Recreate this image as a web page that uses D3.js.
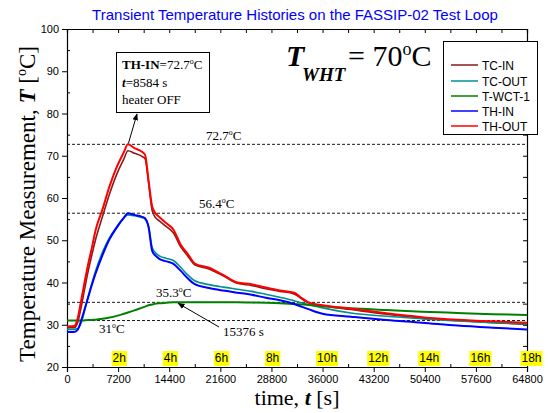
<!DOCTYPE html>
<html><head><meta charset="utf-8">
<script src="https://cdn.jsdelivr.net/npm/d3@7"></script>
<style>
html,body{margin:0;padding:0;background:#fff;}
svg{display:block;}
</style>
</head><body>
<svg id="chart" width="548" height="413"></svg>
<script>
// ---- data ----
const times = [0,1000,1500,2000,2500,3000,3500,4000,5000,6000,7000,8000,8584,9500,10500,11000,11500,12000,12500,13000,14000,15000,16000,17000,18000,20000,22000,24000,26000,28000,30000,32000,33000,34000,36000,40000,45000,50000,55000,60000,64800];
const tcIn  = [29.3,29.3,30.5,34.2,38.6,42.8,46.5,50.0,55.6,61.0,65.6,69.2,71.2,70.6,69.9,69.3,63.5,57.0,55.3,54.6,53.2,51.7,48.5,46.3,44.2,43.2,41.6,39.8,39.3,38.5,37.9,37.3,36.2,35.2,34.5,33.6,32.5,31.6,31.0,30.5,30.1];
const tcOut = [28.9,28.9,29.1,30.5,33.5,36.8,39.8,42.6,47.2,50.6,53.2,55.3,56.0,55.8,55.4,55.0,53.2,48.3,47.0,46.3,45.7,45.2,43.6,41.8,40.4,39.5,38.9,38.4,37.9,37.2,36.5,35.7,35.2,34.8,34.0,32.8,32.0,31.4,30.9,30.5,30.2];
const wct1  = [31.0,31.0,31.0,31.0,31.05,31.1,31.15,31.2,31.4,31.7,32.1,32.6,32.9,33.4,34.0,34.3,34.6,34.8,35.0,35.1,35.2,35.3,35.3,35.3,35.3,35.3,35.3,35.3,35.25,35.2,35.1,34.9,34.8,34.7,34.4,33.9,33.5,33.1,32.8,32.5,32.3];
const thIn  = [28.3,28.3,28.8,31.0,33.8,36.6,39.4,42.0,46.5,50.3,53.0,55.3,56.4,56.0,55.6,55.2,53.0,47.5,46.3,45.6,45.0,44.4,42.8,41.0,39.6,38.7,38.1,37.6,37.1,36.4,35.8,34.9,34.3,33.7,32.6,31.9,31.1,30.5,29.8,29.3,28.9];
const thOut = [29.6,29.7,31.5,35.8,40.3,44.5,48.2,52.2,57.3,62.8,67.3,70.8,72.7,71.8,71.0,70.2,64.0,58.0,56.3,55.5,54.0,52.5,49.0,46.8,44.5,43.5,41.8,40.0,39.6,38.8,38.1,37.6,36.4,35.3,34.6,33.8,32.7,31.8,31.2,30.8,30.5];

const seriesNames  = ["TC-IN","TC-OUT","T-WCT-1","TH-IN","TH-OUT"];
const seriesColors = ["#8B1A1A","#00908F","#008000","#0000FF","#FF0000"];
const seriesValues = [tcIn, tcOut, wct1, thIn, thOut];

const xTicks = [0,7200,14400,21600,28800,36000,43200,50400,57600,64800];
const xMinorTicks = [3600,10800,18000,25200,32400,39600,46800,54000,61200];
const yTicks = [20,30,40,50,60,70,80,90,100];
const yMinorTicks = [25,35,45,55,65,75,85,95];
const hourTicks = [7200,14400,21600,28800,36000,43200,50400,57600,64800];
const hourLabels = ["2h","4h","6h","8h","10h","12h","14h","16h","18h"];

const refLevels = [72.7, 56.4, 35.3, 31];
const peakTime = 8584, peakTemp = 72.7;
const wctTime = 15376, wctTemp = 35.3;

// ---- drawing ----
const SERIF = "'Liberation Serif','Times New Roman',serif";
const SANS = "'Liberation Sans',Arial,sans-serif";
const svg = d3.select("#chart");
const L = 67, R = 527, T = 29, B = 367;
const x = d3.scaleLinear().domain([0,64800]).range([L,R]);
const y = d3.scaleLinear().domain([20,100]).range([B,T]);

// axes
function styleAxis(g){
  g.select(".domain").attr("stroke","#000").attr("stroke-width",1.2);
  g.selectAll(".tick line").attr("stroke","#000").attr("stroke-width",1);
  g.selectAll(".tick text").attr("font-family",SANS).attr("font-size",11).attr("fill","#000");
}
const gxb = svg.append("g").attr("transform",`translate(0,${B})`)
  .call(d3.axisBottom(x).tickValues(xTicks).tickFormat(d3.format("d")).tickSizeOuter(0).tickSize(5).tickPadding(3));
styleAxis(gxb);
svg.append("g").attr("transform",`translate(0,${B})`)
  .call(d3.axisBottom(x).tickValues(xMinorTicks).tickFormat("").tickSizeOuter(0).tickSize(-3))
  .call(g=>{g.select(".domain").remove(); g.selectAll("line").attr("stroke","#000");});
const gyl = svg.append("g").attr("transform",`translate(${L},0)`)
  .call(d3.axisLeft(y).tickValues(yTicks).tickFormat(d3.format("d")).tickSizeOuter(0).tickSize(5).tickPadding(3));
styleAxis(gyl);
svg.append("g").attr("transform",`translate(${L},0)`)
  .call(d3.axisLeft(y).tickValues(yMinorTicks).tickFormat("").tickSizeOuter(0).tickSize(-3))
  .call(g=>{g.select(".domain").remove(); g.selectAll("line").attr("stroke","#000");});
// top & right
svg.append("g").attr("transform",`translate(0,${T})`)
  .call(d3.axisTop(x).tickValues(xTicks.concat(xMinorTicks)).tickFormat("").tickSizeOuter(0).tickSize(-4))
  .call(g=>{g.select(".domain").attr("stroke-width",1.2); g.selectAll("line").attr("stroke","#000");});
svg.append("g").attr("transform",`translate(${R},0)`)
  .call(d3.axisRight(y).tickValues(yTicks.concat(yMinorTicks)).tickFormat("").tickSizeOuter(0).tickSize(-4))
  .call(g=>{g.select(".domain").attr("stroke-width",1.2); g.selectAll("line").attr("stroke","#000");});

// hour labels
const hg = svg.append("g");
hourTicks.forEach((t,i)=>{
  const tx = hg.append("text").attr("x",x(t)-5.5).attr("y",B-5)
    .attr("font-family",SANS).attr("font-size",12).text(hourLabels[i]);
  const bb = tx.node().getBBox();
  hg.insert("rect","text").attr("x",bb.x-1).attr("y",B-16).attr("width",bb.width+2).attr("height",15).attr("fill","#FFFF00");
});

// reference dashed lines
svg.append("g").selectAll("line").data(refLevels).join("line")
  .attr("x1",L).attr("x2",R).attr("y1",d=>y(d)).attr("y2",d=>y(d))
  .attr("stroke","#000").attr("stroke-width",0.9).attr("stroke-dasharray","3,2");

// series lines
const line = d3.line().x((d,i)=>x(times[i])).y(d=>y(d)).curve(d3.curveMonotoneX);
seriesValues.forEach((vals,k)=>{
  svg.append("path").datum(vals).attr("d",line).attr("fill","none")
    .attr("stroke",seriesColors[k]).attr("stroke-width", k===0||k===1 ? 1.6 : 2)
    .attr("stroke-linejoin","round");
});

// degree label helper
function degLabel(g, xx, yy, value, size){
  const t = g.append("text").attr("x",xx).attr("y",yy).attr("font-family",SERIF).attr("font-size",size);
  t.append("tspan").text(value);
  t.append("tspan").attr("font-size",size*0.6).attr("dy",-size*0.4).text("o");
  t.append("tspan").attr("dy",size*0.4).text("C");
  return t;
}
const ann = svg.append("g");
degLabel(ann, 206, 140, "72.7", 13);
degLabel(ann, 199, 208, "56.4", 13);
degLabel(ann, 156, 297, "35.3", 13);
degLabel(ann, 99, 333, "31", 13);

// arrows
const defs = svg.append("defs");
defs.append("marker").attr("id","ah").attr("viewBox","0 0 10 10").attr("refX",9).attr("refY",5)
  .attr("markerWidth",7).attr("markerHeight",7).attr("orient","auto")
  .append("path").attr("d","M0,1 L10,5 L0,9 Z").attr("fill","#000");
svg.append("line").attr("x1",x(peakTime)+0.5).attr("y1",y(peakTemp)-1).attr("x2",137).attr("y2",114)
  .attr("stroke","#000").attr("stroke-width",1).attr("marker-end","url(#ah)");
svg.append("line").attr("x1",219).attr("y1",327).attr("x2",x(wctTime)+2).attr("y2",y(wctTemp)+1)
  .attr("stroke","#000").attr("stroke-width",1).attr("marker-end","url(#ah)");
svg.append("text").attr("x",223).attr("y",336).attr("font-family",SERIF).attr("font-size",13).text(`${wctTime} s`);

// annotation box
svg.append("rect").attr("x",116.5).attr("y",52.5).attr("width",93).attr("height",60)
  .attr("fill","#fff").attr("stroke","#000").attr("stroke-width",1);
const b1 = svg.append("text").attr("x",122).attr("y",69).attr("font-family",SERIF).attr("font-size",13);
b1.append("tspan").attr("font-weight","bold").text("TH-IN");
b1.append("tspan").text(`=${peakTemp}`);
b1.append("tspan").attr("font-size",8).attr("dy",-5).text("o");
b1.append("tspan").attr("dy",5).text("C");
const b2 = svg.append("text").attr("x",122).attr("y",86.5).attr("font-family",SERIF).attr("font-size",13);
b2.append("tspan").attr("font-weight","bold").attr("font-style","italic").text("t");
b2.append("tspan").text(`=${peakTime} s`);
svg.append("text").attr("x",122).attr("y",104).attr("font-family",SERIF).attr("font-size",13).text("heater OFF");

// T_WHT label
svg.append("text").attr("x",286).attr("y",66).attr("font-family",SERIF).attr("font-size",30)
  .attr("font-weight","bold").attr("font-style","italic").text("T");
svg.append("text").attr("x",302).attr("y",81).attr("font-family",SERIF).attr("font-size",19)
  .attr("font-weight","bold").attr("font-style","italic").text("WHT");
const tw = svg.append("text").attr("x",348).attr("y",66).attr("font-family",SERIF).attr("font-size",30);
tw.append("tspan").text("= 70");
tw.append("tspan").attr("font-size",18).attr("dy",-11).text("o");
tw.append("tspan").attr("dy",11).text("C");

// legend
svg.append("rect").attr("x",443.5).attr("y",41.5).attr("width",94).attr("height",93)
  .attr("fill","#fff").attr("stroke","#000").attr("stroke-width",1);
const legY = [65,81,96,111,126];
seriesNames.forEach((n,i)=>{
  svg.append("line").attr("x1",451).attr("x2",478).attr("y1",legY[i]).attr("y2",legY[i])
    .attr("stroke",seriesColors[i]).attr("stroke-width",1.5);
  svg.append("text").attr("x",482).attr("y",legY[i]+4.5).attr("font-family",SANS).attr("font-size",12).text(n);
});

// title
svg.append("text").attr("x",295).attr("y",20).attr("text-anchor","middle").attr("font-family",SANS)
  .attr("font-size",15).attr("fill","#0000FF").text("Transient Temperature Histories on the FASSIP-02 Test Loop");

// axis titles
const xt = svg.append("text").attr("x",297).attr("y",405).attr("text-anchor","middle").attr("font-family",SERIF).attr("font-size",22);
xt.append("tspan").text("time, ");
xt.append("tspan").attr("font-weight","bold").attr("font-style","italic").text("t");
xt.append("tspan").text(" [s]");
const yt = svg.append("text").attr("transform","translate(35,204) rotate(-90)").attr("text-anchor","middle").attr("font-family",SERIF).attr("font-size",23);
yt.append("tspan").text("Temperature Measurement, ");
yt.append("tspan").attr("font-weight","bold").attr("font-style","italic").text("T");
yt.append("tspan").text(" [");
yt.append("tspan").attr("font-size",14).attr("dy",-9).text("o");
yt.append("tspan").attr("dy",9).text("C]");
</script>
</body></html>
